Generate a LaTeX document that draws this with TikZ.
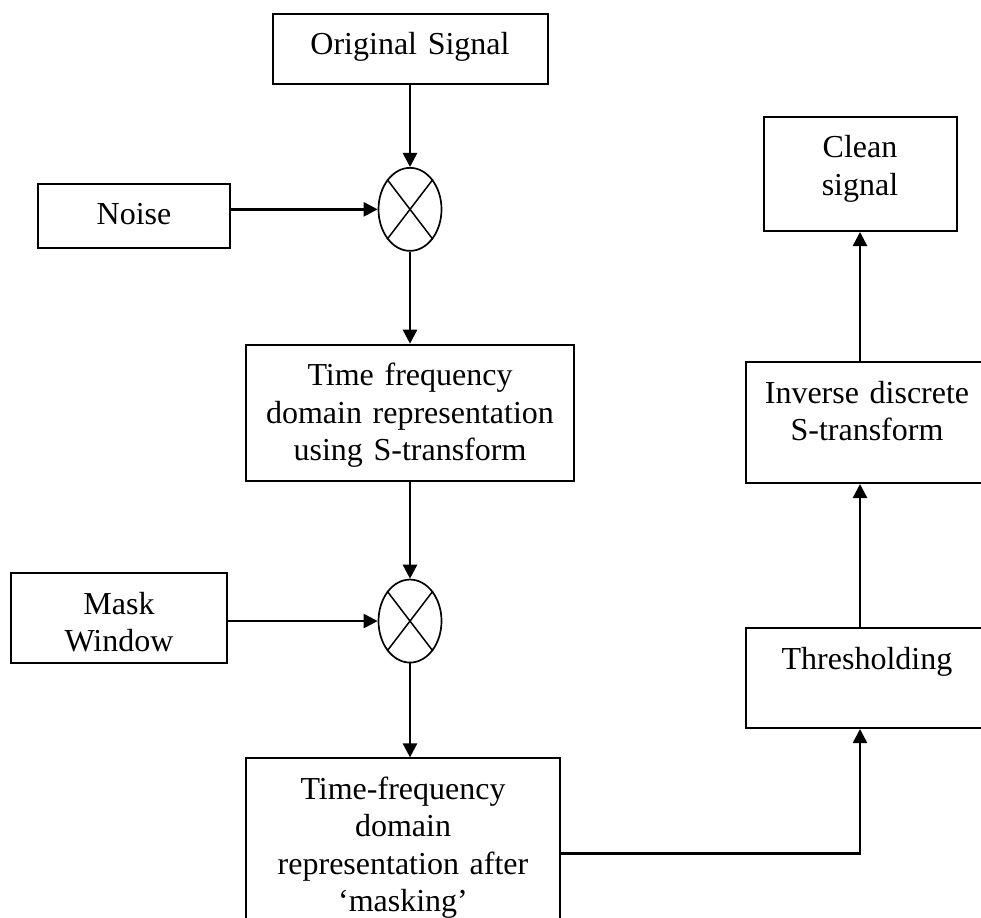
\documentclass[tikz,border=0pt]{standalone}
\usepackage{fontspec}
\setmainfont{Liberation Serif}
\usetikzlibrary{positioning,shapes.geometric,arrows.meta}

\tikzset{
	blk/.style={rectangle, draw, line width=2pt, inner sep=0pt, align=center, text height=41pt, font=\fontsize{32}{37.5}\selectfont},
	mix/.style={ellipse, draw, line width=1.7pt, inner sep=0pt, minimum width=63pt, minimum height=83pt},
	arr/.style={-{Triangle[length=14pt,width=14pt]}, line width=2.6pt},
}

\begin{document}
\begin{tikzpicture}[x=1pt, y=-1pt]
		\useasboundingbox (0,0) rectangle (981,917);
		\clip (0,0) rectangle (981,917);
		% left column
		\node[blk, anchor=north, text width=275pt, text depth=29pt] (orig) at (410,13) {Original Signal};
		\node[mix, below=82pt of orig] (mix1) {};
		\node[blk, anchor=north, text width=192pt, text depth=23pt] (noise) at (134,183) {Noise};
		\node[blk, below=92pt of mix1, text width=328pt, text depth=95pt] (tfr) {Time frequency\\domain representation\\using S-transform};
		\node[mix, below=97pt of tfr] (mix2) {};
		\node[blk, anchor=north, text width=216pt, text depth=49pt] (mask) at (119,572) {Mask\\Window};
		\node[blk, below=94pt of mix2, xshift=-7pt, text width=314pt, text depth=149pt] (after) {Time-frequency\\domain\\representation after\\`masking'};
		% right column
		\node[blk, anchor=north, text width=242pt, text depth=59pt] (thresh) at (867,627) {Thresholding};
		\node[blk, above=143pt of thresh, text width=242pt, text depth=80pt] (inv) {Inverse discrete\\S-transform};
		\node[blk, above=129pt of inv, xshift=-7pt, text width=193pt, text depth=73pt] (clean) {Clean\\signal};
		\foreach \m in {mix1,mix2} {
			\draw[line width=1.5pt] (\m.north west) -- (\m.south east) (\m.north east) -- (\m.south west);
		}
		\draw[arr] (orig) -- (mix1);
		\draw[arr] (noise.east |- mix1) -- (mix1.west);
		\draw[arr] (mix1) -- (tfr);
		\draw[arr] (tfr) -- (mix2);
		\draw[arr] (mask.east |- mix2) -- (mix2.west);
		\draw[arr] (mix2.south) -- (mix2.south |- after.north);
		\draw[arr] (after.east) -| (thresh.south -| clean);
		\draw[arr] (thresh.north -| clean) -- (inv.south -| clean);
		\draw[arr] (inv.north -| clean) -- (clean.south);
	\end{tikzpicture}
\end{document}
